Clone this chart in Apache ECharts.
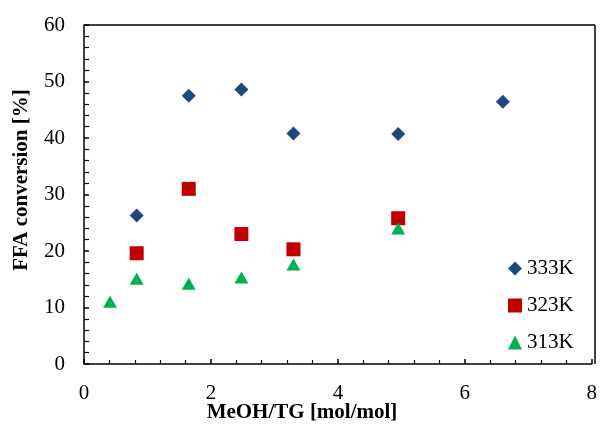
<!DOCTYPE html>
<html>
<head>
    <meta charset="utf-8">
    <title>FFA conversion</title>
    <script src="https://cdn.jsdelivr.net/npm/echarts@6/dist/echarts.min.js"></script>
</head>
<body style="margin:0">
    <div id="main" style="width: 600px;height:426px;"></div>
    <script type="text/javascript">
        // 数据: MeOH/TG 比 与 FFA 转化率
        let ratio333 = [0.83, 1.65, 2.48, 3.3, 4.95, 6.6]
        let conv333 = [26.3, 47.5, 48.6, 40.8, 40.7, 46.4]
        let ratio323 = [0.83, 1.65, 2.48, 3.3, 4.95]
        let conv323 = [19.6, 31.0, 23.0, 20.3, 25.8]
        let ratio313 = [0.41, 0.83, 1.65, 2.48, 3.3, 4.95]
        let conv313 = [11.0, 15.1, 14.2, 15.3, 17.6, 24.0]
        let xTicks = [0, 2, 4, 6, 8]
        let yTicks = [0, 10, 20, 30, 40, 50, 60]

        function pairs(xs, ys) {
            return xs.map(function (x, i) { return [x, ys[i]] })
        }

        let myChart = echarts.init(document.getElementById('main'));
        let font = '"Liberation Serif", "Times New Roman", serif'

        let option = {
            animation: false,
            textStyle: { fontFamily: font },
            grid: { left: 84, right: 5, top: 25, bottom: 62 },
            legend: {
                orient: 'vertical',
                left: 503,
                top: 253,
                itemWidth: 14,
                itemHeight: 14,
                itemGap: 16,
                itemStyle: { borderWidth: 0 },
                textStyle: { fontFamily: font, fontSize: 21, color: '#000' },
                data: [
                    { name: '333K', icon: 'diamond' },
                    { name: '323K', icon: 'rect' },
                    { name: '313K', icon: 'triangle' }
                ]
            },
            xAxis: {
                type: 'value',
                min: xTicks[0],
                max: xTicks[xTicks.length - 1],
                interval: 2,
                splitLine: { show: false },
                axisLine: { onZero: false, lineStyle: { color: '#000', width: 1.5 } },
                axisTick: { inside: true, length: 5, lineStyle: { color: '#000', width: 1.5 } },
                minorTick: { show: true, splitNumber: 5, length: 4, lineStyle: { color: '#000', width: 1.2 } },
                axisLabel: { color: '#000', fontSize: 21, margin: 19, fontFamily: font }
            },
            yAxis: {
                type: 'value',
                min: yTicks[0],
                max: yTicks[yTicks.length - 1],
                interval: 10,
                splitLine: { show: false },
                axisLine: { show: true, onZero: false, lineStyle: { color: '#000', width: 1.5 } },
                axisTick: { show: true, inside: true, length: 5, lineStyle: { color: '#000', width: 1.5 } },
                minorTick: { show: true, splitNumber: 5, length: 5, lineStyle: { color: '#000', width: 1.2 } },
                axisLabel: { color: '#000', fontSize: 21, margin: 19, fontFamily: font }
            },
            graphic: [
                // 上边框和右边框
                { type: 'line', shape: { x1: 84, y1: 25, x2: 595, y2: 25 }, style: { stroke: '#000', lineWidth: 1.5 } },
                { type: 'line', shape: { x1: 595, y1: 25, x2: 595, y2: 364 }, style: { stroke: '#000', lineWidth: 1.5 } },
                {
                    type: 'text', x: 302, y: 413,
                    style: {
                        text: 'MeOH/TG [mol/mol]', font: 'bold 21px ' + font,
                        fill: '#000', align: 'center', verticalAlign: 'middle'
                    }
                },
                {
                    type: 'text', x: 22, y: 180, rotation: Math.PI / 2,
                    style: {
                        text: 'FFA conversion [%]', font: 'bold 21px ' + font,
                        fill: '#000', align: 'center', verticalAlign: 'middle'
                    }
                }
            ],
            series: [
                {
                    name: '333K',
                    type: 'scatter',
                    symbol: 'diamond',
                    symbolSize: [14, 14],
                    itemStyle: { color: '#1F497D', opacity: 1 },
                    data: pairs(ratio333, conv333)
                },
                {
                    name: '323K',
                    type: 'scatter',
                    symbol: 'rect',
                    symbolSize: [14, 14],
                    itemStyle: { color: '#C00000', opacity: 1 },
                    data: pairs(ratio323, conv323)
                },
                {
                    name: '313K',
                    type: 'scatter',
                    symbol: 'triangle',
                    symbolSize: [14, 12],
                    itemStyle: { color: '#00B050', opacity: 1 },
                    data: pairs(ratio313, conv313)
                }
            ]
        };

        myChart.setOption(option);
    </script>
</body>
</html>
